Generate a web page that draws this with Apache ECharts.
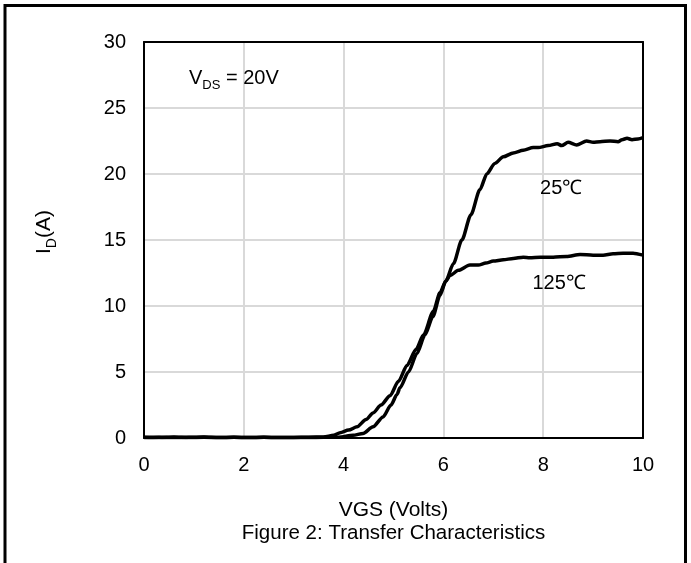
<!DOCTYPE html>
<html>
<head>
<meta charset="utf-8">
<script src="https://cdn.jsdelivr.net/npm/echarts@6/dist/echarts.min.js"></script>
<style>
html,body{margin:0;padding:0;background:#fff;}
#c{width:691px;height:563px;}
</style>
</head>
<body>
<div id="c"></div>
<script>
// ---- data ----
var xTicks = [0, 2, 4, 6, 8, 10];
var yTicks = [0, 5, 10, 15, 20, 25, 30];

var vgs25 = [0, 0.3, 0.6, 0.9, 1.2, 1.5, 1.8, 2.1, 2.4, 2.7, 3.0, 3.3, 3.6, 3.9, 4.19, 4.39, 4.59, 4.79, 4.95, 5.07, 5.13, 5.3, 5.47, 5.63, 5.79, 5.93, 6.05, 6.2, 6.37, 6.55, 6.73, 6.87, 7.03, 7.2, 7.4, 7.6, 7.8, 7.9, 8.1, 8.28, 8.37, 8.5, 8.67, 8.87, 9.0, 9.14, 9.34, 9.5, 9.58, 9.68, 9.78, 9.9, 10];
var id25  = [0.05, 0.03, 0.07, 0.03, 0.06, 0.03, 0.06, 0.03, 0.05, 0.03, 0.04, 0.03, 0.05, 0.06, 0.2, 0.35, 0.85, 1.6, 2.5, 3.3, 3.8, 5.0, 6.4, 7.8, 9.2, 10.8, 11.9, 13.2, 15.0, 16.9, 18.8, 20.0, 20.8, 21.3, 21.6, 21.8, 22.0, 22.0, 22.15, 22.3, 22.15, 22.4, 22.2, 22.5, 22.4, 22.45, 22.5, 22.45, 22.6, 22.7, 22.6, 22.65, 22.75];

var vgs125 = [0, 0.3, 0.6, 0.9, 1.2, 1.5, 1.8, 2.1, 2.4, 2.7, 3.0, 3.3, 3.6, 3.8, 3.93, 4.1, 4.27, 4.45, 4.59, 4.75, 4.93, 5.1, 5.27, 5.45, 5.6, 5.8, 5.93, 6.05, 6.13, 6.3, 6.53, 6.7, 6.85, 7.0, 7.2, 7.4, 7.6, 7.73, 7.94, 8.2, 8.47, 8.74, 9.0, 9.2, 9.4, 9.6, 9.8, 10];
var id125  = [0.03, 0.06, 0.03, 0.05, 0.07, 0.03, 0.06, 0.03, 0.05, 0.03, 0.04, 0.06, 0.08, 0.2, 0.4, 0.6, 0.85, 1.4, 1.9, 2.5, 3.2, 4.3, 5.5, 6.7, 7.8, 9.6, 11.0, 11.9, 12.3, 12.7, 13.1, 13.1, 13.25, 13.4, 13.5, 13.6, 13.7, 13.65, 13.7, 13.7, 13.75, 13.9, 13.85, 13.85, 13.95, 14.0, 14.0, 13.85];

var labels = [
  { text: '25\u2103', x: 8.36, y: 18.9 },
  { text: '125\u2103', x: 8.32, y: 11.7 }
];

function pairs(xs, ys) { return xs.map(function (v, i) { return [v, ys[i]]; }); }

var FONT = '"Liberation Sans", Arial, sans-serif';
var chart = echarts.init(document.getElementById('c'), null, { renderer: 'canvas' });

var option = {
  backgroundColor: '#fff',
  animation: false,
  grid: { left: 144, top: 42, width: 499, height: 396, containLabel: false },
  xAxis: [{
    type: 'value', min: xTicks[0], max: xTicks[xTicks.length - 1], interval: 2,
    axisLine: { show: true, lineStyle: { color: '#000', width: 2 } },
    axisTick: { show: false },
    axisLabel: { color: '#000', fontSize: 20, fontFamily: FONT, margin: 17 },
    splitLine: { show: true, lineStyle: { color: '#d9d9d9', width: 2 } },
    name: 'VGS (Volts)', nameLocation: 'middle', nameGap: 62,
    nameTextStyle: { color: '#000', fontSize: 21, fontFamily: FONT }
  }, {
    type: 'value', position: 'top', min: 0, max: 10, interval: 2,
    axisLine: { show: true, onZero: false, lineStyle: { color: '#000', width: 2 } },
    axisTick: { show: false }, axisLabel: { show: false }, splitLine: { show: false }
  }],
  yAxis: [{
    type: 'value', min: yTicks[0], max: yTicks[yTicks.length - 1], interval: 5,
    axisLine: { show: true, lineStyle: { color: '#000', width: 2 } },
    axisTick: { show: false },
    axisLabel: { color: '#000', fontSize: 20, fontFamily: FONT, margin: 18 },
    splitLine: { show: true, lineStyle: { color: '#d9d9d9', width: 2 } }
  }, {
    type: 'value', position: 'right', min: 0, max: 30, interval: 5,
    axisLine: { show: true, onZero: false, lineStyle: { color: '#000', width: 2 } },
    axisTick: { show: false }, axisLabel: { show: false }, splitLine: { show: false }
  }],
  series: [{
    name: '25C', type: 'line', data: pairs(vgs25, id25), showSymbol: false,
    smooth: 0.25, smoothMonotone: 'x',
    lineStyle: { color: '#000', width: 3.5 }, z: 5
  }, {
    name: '125C', type: 'line', data: pairs(vgs125, id125), showSymbol: false,
    smooth: 0.25, smoothMonotone: 'x',
    lineStyle: { color: '#000', width: 3.5 }, z: 5
  }]
};
chart.setOption(option);

var g = [];
// outer frame
g.push({ type: 'polyline', shape: { points: [[5, 570], [5, 5.5], [685.5, 5.5], [685.5, 570]] },
  style: { stroke: '#000', lineWidth: 3, fill: null }, z: 100 });
// y axis title I_D(A)
g.push({ type: 'text', x: 44, y: 232, rotation: Math.PI / 2,
  style: { text: '{b|I}{s|D}{b|(A)}', align: 'center', verticalAlign: 'middle',
    rich: { b: { fontSize: 21, fontFamily: FONT, fill: '#000', lineHeight: 30, verticalAlign: 'middle' },
            s: { fontSize: 14, fontFamily: FONT, fill: '#000', lineHeight: 30, verticalAlign: 'bottom' } } }, z: 100 });
// VDS label
g.push({ type: 'text', x: 189, y: 78,
  style: { text: '{b|V}{s|DS}{b| = 20V}', align: 'left', verticalAlign: 'middle',
    rich: { b: { fontSize: 20, fontFamily: FONT, fill: '#000', lineHeight: 28, verticalAlign: 'middle' },
            s: { fontSize: 13, fontFamily: FONT, fill: '#000', lineHeight: 28, verticalAlign: 'bottom' } } }, z: 100 });
// curve labels
labels.forEach(function (l) {
  var p = chart.convertToPixel({ gridIndex: 0 }, [l.x, l.y]);
  g.push({ type: 'text', x: p[0], y: p[1],
    style: { text: l.text, align: 'center', verticalAlign: 'middle', fontSize: 20, fontFamily: FONT, fill: '#000' }, z: 100 });
});
// caption
g.push({ type: 'text', x: 393.5, y: 533,
  style: { text: 'Figure 2: Transfer Characteristics', align: 'center', verticalAlign: 'middle', fontSize: 20.5, fontFamily: FONT, fill: '#000' }, z: 100 });
chart.setOption({ graphic: g });
</script>
</body>
</html>
